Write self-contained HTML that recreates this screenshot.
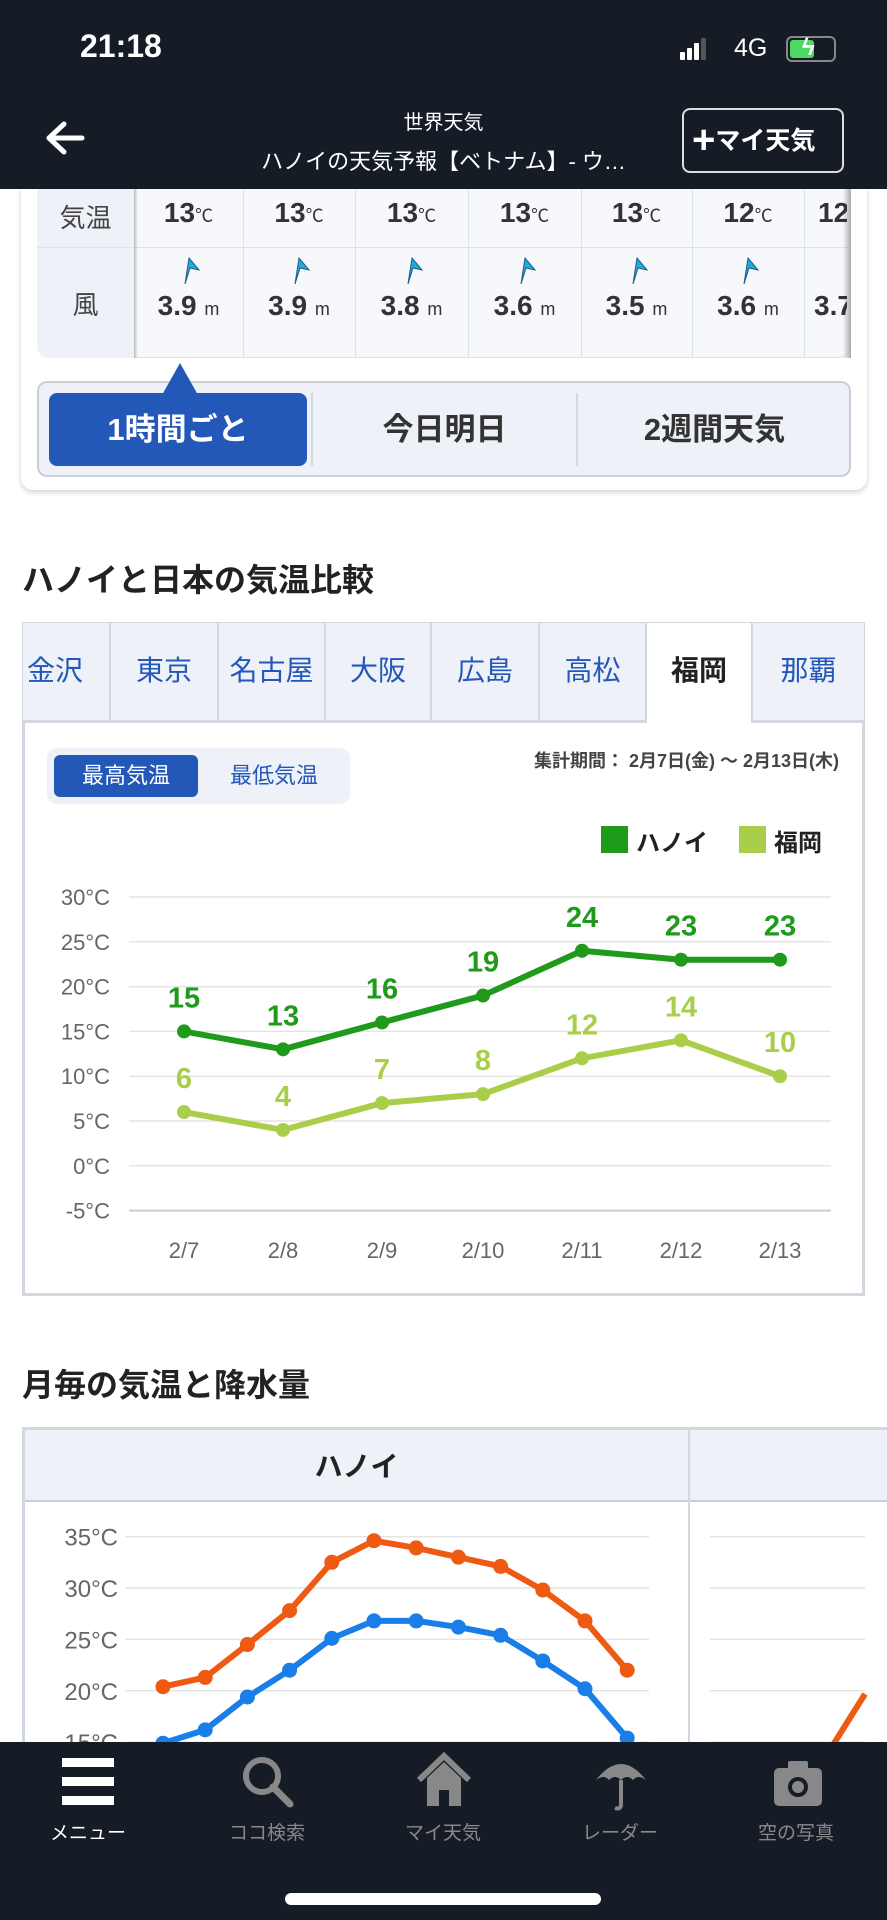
<!DOCTYPE html>
<html><head><meta charset="utf-8">
<style>
*{margin:0;padding:0;box-sizing:border-box}
body{width:887px;height:1920px;position:relative;overflow:hidden;background:#fff;font-family:"Liberation Sans","Noto Sans CJK JP",sans-serif;color:#222}
.a{position:absolute}
.c{text-align:center}
</style></head><body>
<!-- header -->
<div class="a" style="left:0;top:0;width:887px;height:189px;background:#161c26"></div>
<div class="a" style="left:80px;top:28px;color:#fff;font-size:32px;font-weight:bold">21:18</div>
<div class="a" style="left:680px;top:38px;width:26px;height:22px">
 <div class="a" style="left:0;top:14px;width:5px;height:8px;background:#fff;border-radius:1px"></div>
 <div class="a" style="left:7px;top:10px;width:5px;height:12px;background:#fff;border-radius:1px"></div>
 <div class="a" style="left:14px;top:5px;width:5px;height:17px;background:#fff;border-radius:1px"></div>
 <div class="a" style="left:21px;top:0;width:5px;height:22px;background:#555;border-radius:1px"></div>
</div>
<div class="a" style="left:734px;top:34px;color:#fff;font-size:25px">4G</div>
<div class="a" style="left:786px;top:36px;width:50px;height:26px;border:2px solid #888;border-radius:6px"><div style="margin:2px;width:24px;height:18px;background:#4cd964;border-radius:3px"></div></div>
<div class="a" style="left:802px;top:34px;color:#fff;font-size:24px;font-weight:bold">ϟ</div>
<svg class="a" style="left:44px;top:120px" width="42" height="36"><path d="M20 4 L5 18 L20 32 M5 18 H38" stroke="#fff" stroke-width="5" fill="none" stroke-linecap="round" stroke-linejoin="round"/></svg>
<div class="a c" style="left:200px;top:106px;width:487px;color:#fff;font-size:20px">世界天気</div>
<div class="a c" style="left:200px;top:144px;width:487px;color:#fff;font-size:22px">ハノイの天気予報【ベトナム】- ウ…</div>
<div class="a" style="left:682px;top:108px;width:162px;height:65px;border:2px solid #ddd;border-radius:8px;color:#fff;font-size:25px;font-weight:bold;line-height:61px;padding-left:8px"><span style="font-size:40px;vertical-align:-4px">+</span>マイ天気</div>

<!-- top card -->
<div class="a" style="left:21px;top:189px;width:846px;height:301px;background:#fff;border-radius:0 0 12px 12px;box-shadow:0 2px 6px rgba(0,0,0,.2)"></div>
<div class="a" style="left:37px;top:189px;width:814px;height:169px;background:#f7f8fb;border-radius:0 0 12px 12px;border:1px solid #dde1ea;border-top:none"></div>
<div class="a" style="left:37px;top:189px;width:97px;height:169px;background:#eef1f7;border-radius:0 0 0 12px"></div>
<div class="a" style="left:37px;top:247px;width:814px;height:1px;background:#dde1ea"></div>
<div class="a c" style="left:37px;top:198px;width:97px;font-size:26px;color:#444">気温</div>
<div class="a c" style="left:37px;top:285px;width:97px;font-size:26px;color:#444">風</div>
<div class="a" style="left:134px;top:189px;width:4px;height:169px;background:linear-gradient(90deg,#bbb,transparent)"></div>
<div class="a" style="left:843px;top:189px;width:8px;height:169px;background:linear-gradient(270deg,#aaa,transparent)"></div>
<div id="cols"></div>
<script>
var b=[134,243,355,468,581,692,804,915],t=["13","13","13","13","13","12","12"],w=["3.9","3.9","3.8","3.6","3.5","3.6","3.7"],h="";
for(var i=0;i<7;i++){var x=b[i],wd=b[i+1]-b[i];
if(i>0)h+='<div class="a" style="left:'+x+'px;top:189px;width:1px;height:169px;background:#dde1ea"></div>';
if(i<6){h+='<div class="a c" style="left:'+x+'px;top:197px;width:'+wd+'px;font-size:28px;font-weight:bold;color:#333">'+t[i]+'<span style="font-size:18px;font-weight:normal">℃</span></div>';
h+='<svg class="a" style="left:'+(x+wd/2-12)+'px;top:256px" width="24" height="30"><path d="M8 28 L12 2 L22 14 L13 12 Z" fill="#29a6dd" stroke="#1a5f80" stroke-width="1"/></svg>';
h+='<div class="a c" style="left:'+x+'px;top:290px;width:'+wd+'px;font-size:28px;font-weight:bold;color:#333">'+w[i]+' <span style="font-size:18px;font-weight:normal">m</span></div>';}
else{h+='<div class="a" style="left:'+(x+14)+'px;top:197px;font-size:28px;font-weight:bold;color:#333;width:29px;overflow:hidden">12</div><div class="a" style="left:'+(x+10)+'px;top:290px;font-size:28px;font-weight:bold;color:#333;width:33px;overflow:hidden">3.7</div>';}}
document.getElementById('cols').innerHTML=h;
</script>
<div class="a" style="left:37px;top:381px;width:814px;height:96px;background:#eef1f8;border:2px solid #c9ced8;border-radius:10px"></div>
<svg class="a" style="left:162px;top:363px" width="36" height="32"><path d="M0 32 L18 0 L36 32Z" fill="#2358b8"/></svg>
<div class="a c" style="left:49px;top:393px;width:258px;height:73px;background:#2358b8;border-radius:8px;color:#fff;font-size:31px;font-weight:bold;line-height:73px">1時間ごと</div>
<div class="a" style="left:311px;top:393px;width:2px;height:73px;background:#d4d8e0"></div>
<div class="a" style="left:576px;top:393px;width:2px;height:73px;background:#d4d8e0"></div>
<div class="a c" style="left:313px;top:393px;width:263px;font-size:31px;font-weight:bold;line-height:73px;color:#333">今日明日</div>
<div class="a c" style="left:578px;top:393px;width:273px;font-size:31px;font-weight:bold;line-height:73px;color:#333">2週間天気</div>

<div class="a" style="left:22px;top:555px;font-size:32px;font-weight:bold">ハノイと日本の気温比較</div>

<!-- comparison box -->
<div class="a" style="left:22px;top:622px;width:843px;height:674px;border:3px solid #d2d7e0;background:#fff"></div>
<div id="tabs"></div>
<script>
var tb=[22,110,218,325,431,539,646,752,865],nm=["金沢","東京","名古屋","大阪","広島","高松","福岡","那覇"],h="";
for(var i=0;i<8;i++){var act=i==6;h+='<div class="a c" style="left:'+tb[i]+'px;top:622px;width:'+(tb[i+1]-tb[i])+'px;height:'+(act?101:101)+'px;background:'+(act?'#fff':'#eef1f8')+';border:1.5px solid #d2d7e0;'+(act?'border-bottom:none;':'border-bottom:3px solid #d2d7e0;')+'font-size:28px;line-height:96px;color:'+(act?'#222;font-weight:bold':'#2358b8')+';'+(i==0?'text-align:left;padding-left:4px':'')+'">'+nm[i]+'</div>'}
document.getElementById('tabs').innerHTML=h;
</script>
<div class="a" style="left:47px;top:748px;width:303px;height:56px;background:#eef1f8;border-radius:10px"></div>
<div class="a c" style="left:54px;top:755px;width:144px;height:42px;background:#2358b8;border-radius:6px;color:#fff;font-size:22px;line-height:42px">最高気温</div>
<div class="a c" style="left:202px;top:755px;width:144px;font-size:22px;line-height:42px;color:#2358b8">最低気温</div>
<div class="a" style="left:470px;top:747px;width:369px;text-align:right;font-size:18px;font-weight:bold;color:#444">集計期間： 2月7日(金) 〜 2月13日(木)</div>
<div class="a" style="left:601px;top:826px;width:27px;height:27px;background:#1f9a1a"></div>
<div class="a" style="left:636px;top:823px;font-size:24px;font-weight:bold">ハノイ</div>
<div class="a" style="left:739px;top:826px;width:27px;height:27px;background:#a9cf4a"></div>
<div class="a" style="left:774px;top:823px;font-size:24px;font-weight:bold">福岡</div>

<svg class="a" style="left:0;top:0" width="887" height="1920" font-family="Liberation Sans, sans-serif">
<g id="g1"></g>
</svg>
<script>
var s="",xs=[184,283,382,483,582,681,780],hn=[15,13,16,19,24,23,23],fk=[6,4,7,8,12,14,10];
function Y(v){return 897+(30-v)*8.96}
for(var v=30;v>=-5;v-=5){var y=Y(v);s+='<line x1="129" x2="831" y1="'+y+'" y2="'+y+'" stroke="'+(v==-5?'#ccc':'#e4e4e4')+'" stroke-width="'+(v==-5?2:1.5)+'"/><text x="110" y="'+(y+8)+'" text-anchor="end" font-size="22" fill="#666">'+v+'°C</text>'}
for(var i=0;i<7;i++)s+='<text x="'+xs[i]+'" y="'+1258+'" text-anchor="middle" font-size="22" fill="#666">2/'+(7+i)+'</text>';
function line(d,c){var p="";for(var i=0;i<7;i++)p+=(i?'L':'M')+xs[i]+' '+Y(d[i]);var r='<path d="'+p+'" stroke="'+c+'" stroke-width="6" fill="none" stroke-linejoin="round"/>';for(var i=0;i<7;i++)r+='<circle cx="'+xs[i]+'" cy="'+Y(d[i])+'" r="7" fill="'+c+'"/><text x="'+xs[i]+'" y="'+(Y(d[i])-24)+'" text-anchor="middle" font-size="29" font-weight="bold" fill="'+c+'">'+d[i]+'</text>';return r}
s+=line(fk,'#a9cf4a')+line(hn,'#1f9a1a');
// monthly
var mx=[];for(var i=0;i<12;i++)mx.push(163+i*42.2);
function Y2(v){return 1588+(30-v)*10.28}
for(var v=35;v>=15;v-=5){var y=Y2(v);s+='<line x1="125" x2="649" y1="'+y+'" y2="'+y+'" stroke="#e4e4e4" stroke-width="1.5"/><line x1="710" x2="865" y1="'+y+'" y2="'+y+'" stroke="#e4e4e4" stroke-width="1.5"/><text x="118" y="'+(y+9)+'" text-anchor="end" font-size="24" fill="#666">'+v+'°C</text>'}
var o=[20.4,21.3,24.5,27.8,32.5,34.6,33.9,33.0,32.1,29.8,26.8,22.0],bl=[14.9,16.2,19.4,22.0,25.1,26.8,26.8,26.2,25.4,22.9,20.2,15.4];
function l2(d,c){var p="";for(var i=0;i<12;i++)p+=(i?'L':'M')+mx[i]+' '+Y2(d[i]);var r='<path d="'+p+'" stroke="'+c+'" stroke-width="6" fill="none" stroke-linejoin="round"/>';for(var i=0;i<12;i++)r+='<circle cx="'+mx[i]+'" cy="'+Y2(d[i])+'" r="7.5" fill="'+c+'"/>';return r}
s+=l2(bl,'#1a7ee8')+l2(o,'#ef5a12');
s+='<path d="M833 1745 L865 1694" stroke="#ef5a12" stroke-width="6"/>';
document.getElementById('g1').innerHTML=s;
</script>

<div class="a" style="left:22px;top:1360px;font-size:32px;font-weight:bold">月毎の気温と降水量</div>
<div class="a" style="left:22px;top:1427px;width:865px;height:3px;background:#d2d7e0"></div>
<div class="a" style="left:22px;top:1427px;width:3px;height:330px;background:#d2d7e0"></div>
<div class="a" style="left:25px;top:1430px;width:862px;height:72px;background:#eef1f8;border-bottom:2px solid #c9ced8"></div>
<div class="a" style="left:688px;top:1427px;width:2px;height:330px;background:#d2d7e0"></div>
<div class="a c" style="left:25px;top:1445px;width:663px;font-size:28px;font-weight:bold">ハノイ</div>

<!-- bottom nav -->
<div class="a" style="left:0;top:1742px;width:887px;height:178px;background:#161c26"></div>
<div class="a" style="left:62px;top:1758px;width:52px;height:9px;background:#fff"></div>
<div class="a" style="left:62px;top:1777px;width:52px;height:9px;background:#fff"></div>
<div class="a" style="left:62px;top:1796px;width:52px;height:9px;background:#fff"></div>
<svg class="a" style="left:240px;top:1754px" width="56" height="56"><circle cx="22" cy="22" r="16" stroke="#888" stroke-width="6" fill="none"/><path d="M33 33 L50 50" stroke="#888" stroke-width="7" stroke-linecap="round"/></svg>
<svg class="a" style="left:415px;top:1752px" width="58" height="56"><path d="M4 28 L29 4 L54 28" stroke="#888" stroke-width="6" fill="none"/><path d="M12 26 L29 10 L46 26 V54 H12Z" fill="#888"/><rect x="24" y="38" width="10" height="16" fill="#161c26"/></svg>
<svg class="a" style="left:592px;top:1754px" width="58" height="60"><path d="M4 26 Q29 -6 54 26 Q46 20 41 26 Q35 20 29 26 Q23 20 17 26 Q12 20 4 26Z" fill="#888"/><path d="M29 26 V50 Q29 56 23 54" stroke="#888" stroke-width="4" fill="none"/></svg>
<svg class="a" style="left:772px;top:1758px" width="52" height="52"><rect x="2" y="10" width="48" height="38" rx="5" fill="#888"/><rect x="16" y="3" width="20" height="10" rx="2" fill="#888"/><circle cx="26" cy="29" r="10" fill="#161c26"/><circle cx="26" cy="29" r="6" fill="#888"/></svg>
<div class="a c" style="left:38px;top:1818px;width:100px;color:#fff;font-size:19px">メニュー</div>
<div class="a c" style="left:217px;top:1818px;width:100px;color:#888;font-size:19px">ココ検索</div>
<div class="a c" style="left:393px;top:1818px;width:100px;color:#888;font-size:19px">マイ天気</div>
<div class="a c" style="left:570px;top:1818px;width:100px;color:#888;font-size:19px">レーダー</div>
<div class="a c" style="left:746px;top:1818px;width:100px;color:#888;font-size:19px">空の写真</div>
<div class="a" style="left:285px;top:1893px;width:316px;height:12px;background:#fff;border-radius:6px"></div>
</body></html>
